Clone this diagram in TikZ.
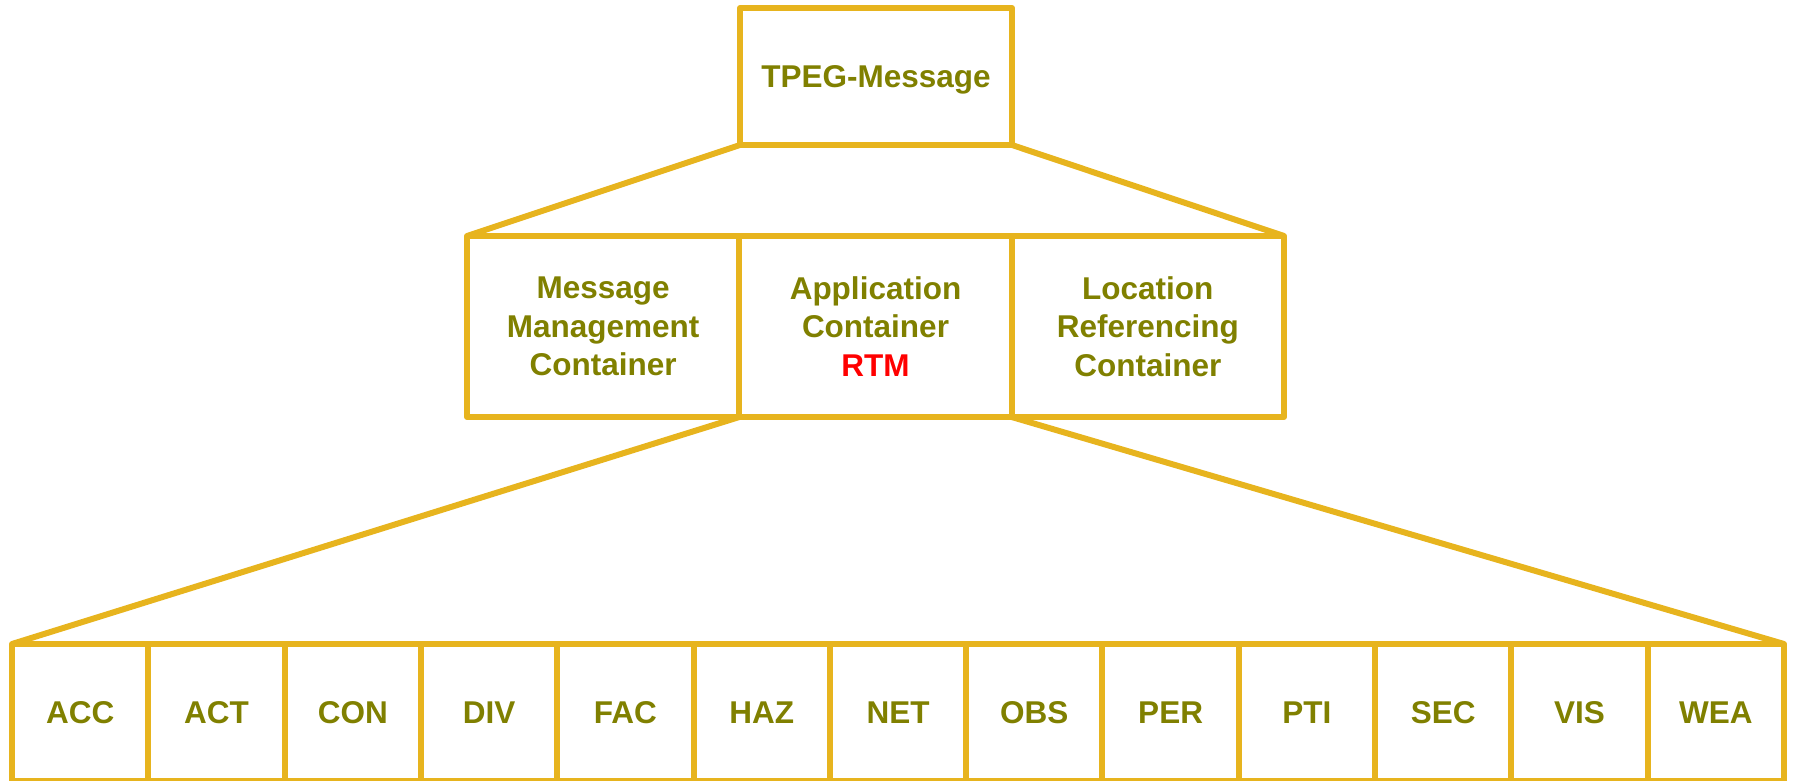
\documentclass[tikz,border=0pt]{standalone}
\usepackage{fontspec}
\setmainfont{Liberation Sans}
\definecolor{boxline}{RGB}{231,180,30}
\definecolor{boxtext}{RGB}{128,128,0}

\begin{document}
\begin{tikzpicture}[x=1pt, y=1pt, line width=6pt, line join=round,
    box/.style={draw=boxline, text=boxtext, inner sep=0pt, outer sep=0pt,
      align=center, font=\bfseries\fontsize{31.5}{38.5}\selectfont},
    topbox/.style={box, text depth=0pt, minimum width=272pt, minimum height=137pt},
    midbox/.style={box, minimum width=272.33pt, minimum height=181pt},
    subbox/.style={box, minimum width=136.31pt, minimum height=137pt}]
  \useasboundingbox (0,0) rectangle (1794,780);

  % top level
  \node[topbox] (msg) at (876,703.5) {TPEG-Message};

  % containers
  \node[midbox] (mmc) at (603.17,453.5) {Message\\Management\\Container};
  \node[midbox] (app) at (875.5,453.5) {Application\\Container\\\textcolor{red}{RTM}};
  \node[midbox] (loc) at (1147.83,453.5) {Location\\Referencing\\Container};

  \draw[boxline] (msg.south west) to (mmc.north west);
  \draw[boxline] (msg.south east) to (loc.north east);

  % applications
  \node[subbox] (acc) at (80.15,67.5) {ACC};
  \node[subbox] (act) at (216.46,67.5) {ACT};
  \node[subbox] (con) at (352.77,67.5) {CON};
  \node[subbox] (div) at (489.08,67.5) {DIV};
  \node[subbox] (fac) at (625.38,67.5) {FAC};
  \node[subbox] (haz) at (761.69,67.5) {HAZ};
  \node[subbox] (net) at (898.00,67.5) {NET};
  \node[subbox] (obs) at (1034.31,67.5) {OBS};
  \node[subbox] (per) at (1170.62,67.5) {PER};
  \node[subbox] (pti) at (1306.92,67.5) {PTI};
  \node[subbox] (sec) at (1443.23,67.5) {SEC};
  \node[subbox] (vis) at (1579.54,67.5) {VIS};
  \node[subbox] (wea) at (1715.85,67.5) {WEA};

  \draw[boxline] (app.south west) to (acc.north west);
  \draw[boxline] (app.south east) to (wea.north east);
\end{tikzpicture}
\end{document}
